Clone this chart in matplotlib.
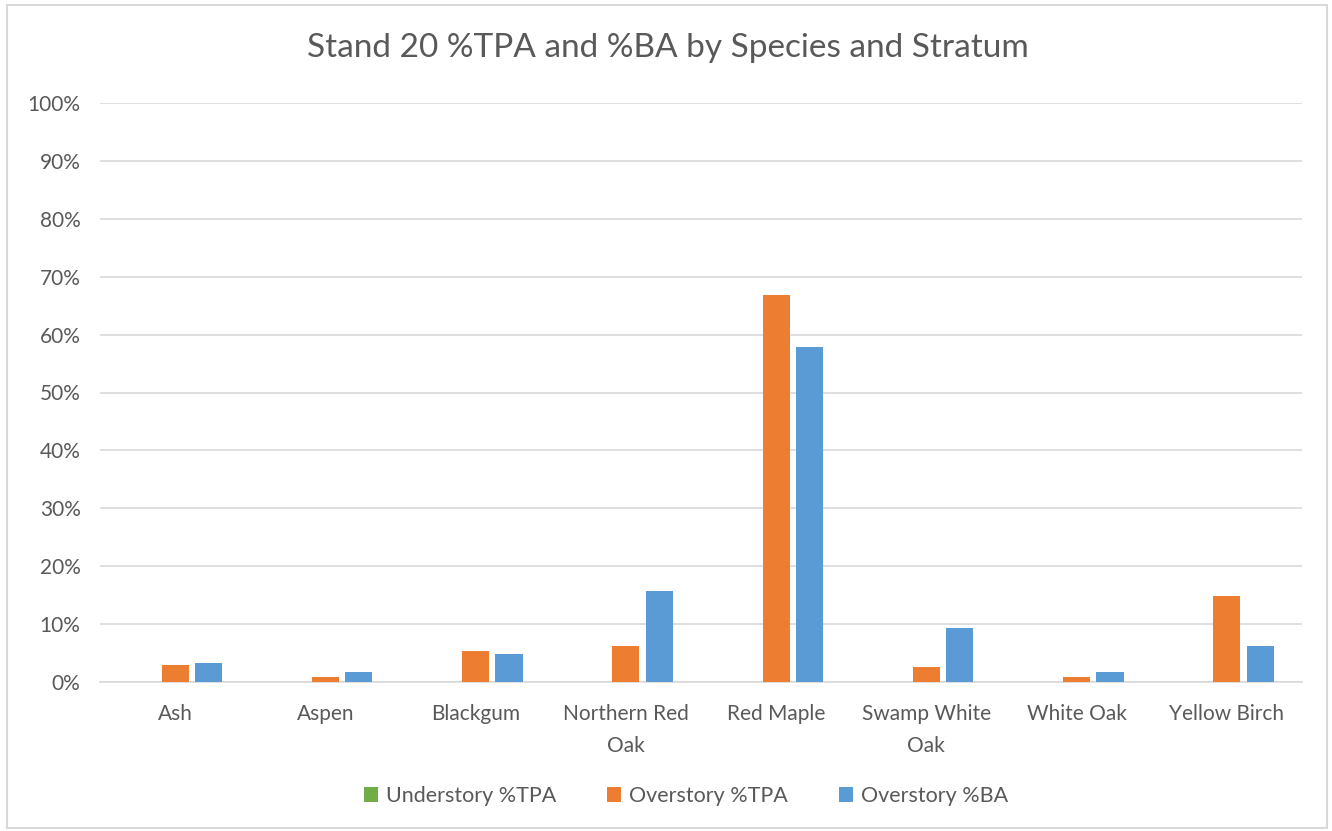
import numpy as np
import matplotlib.pyplot as plt
from matplotlib.patches import Rectangle
from matplotlib.ticker import PercentFormatter

# Species and per-series values (percent)
species = ["Ash", "Aspen", "Blackgum", "Northern Red\nOak", "Red Maple",
           "Swamp White\nOak", "White Oak", "Yellow Birch"]
understory_tpa = [0, 0, 0, 0, 0, 0, 0, 0]
overstory_tpa = [3.0, 0.8, 5.3, 6.3, 66.8, 2.6, 0.8, 14.8]
overstory_ba = [3.2, 1.7, 4.8, 15.7, 57.8, 9.4, 1.7, 6.3]
series_names = ["Understory %TPA", "Overstory %TPA", "Overstory %BA"]
colors = ["#70ad47", "#ed7d31", "#5b9bd5"]

text_color = "#595959"
grid_color = "#d9d9d9"
font = ["Lato", "DejaVu Sans"]
plt.rcParams['font.family'] = font

fig = plt.figure(figsize=(13.32, 8.31), dpi=100)
ax = fig.add_axes([100 / 1332, 1 - 682 / 831, 1202 / 1332, 579 / 831])

x = np.arange(len(species))
slot = 0.222
width = 0.18
for i, (vals, name, c) in enumerate(zip([understory_tpa, overstory_tpa, overstory_ba],
                                        series_names, colors)):
    ax.bar(x + (i - 1) * slot, vals, width, color=c, label=name, zorder=3)

ax.set_xlim(-0.5, len(species) - 0.5)
ax.set_ylim(0, 100)
ax.set_yticks(np.arange(0, 101, 10))
ax.yaxis.set_major_formatter(PercentFormatter(decimals=0))
ax.set_xticks(x)
ax.set_xticklabels(species, linespacing=1.75)
ax.grid(axis='y', color=grid_color, linewidth=1.2, zorder=0)
for side in ["top", "right", "left"]:
    ax.spines[side].set_visible(False)
ax.spines["bottom"].set_color(grid_color)
ax.spines["bottom"].set_linewidth(1.2)
ax.tick_params(axis='both', length=0, labelsize=15, colors=text_color)
ax.tick_params(axis='y', pad=14)
ax.tick_params(axis='x', pad=16)
for lab in ax.get_xticklabels():
    lab.set_verticalalignment('top')

fig.text(668 / 1332, 1 - 48 / 831, "Stand 20 %TPA and %BA by Species and Stratum",
         ha='center', va='center', fontsize=24, color=text_color)

fig.legend(loc='center', bbox_to_anchor=(686 / 1332, 1 - 796 / 831), ncol=3,
           frameon=False, fontsize=15.5, labelcolor=text_color,
           handlelength=0.65, handleheight=0.65, handletextpad=0.35, columnspacing=2.4)

# light outer chart border
fig.patches.append(Rectangle((7 / 1332, 3 / 831), 1320 / 1332, 823 / 831,
                             transform=fig.transFigure, fill=False,
                             edgecolor=grid_color, linewidth=1.5))

fig.savefig("out.png", dpi=100)
